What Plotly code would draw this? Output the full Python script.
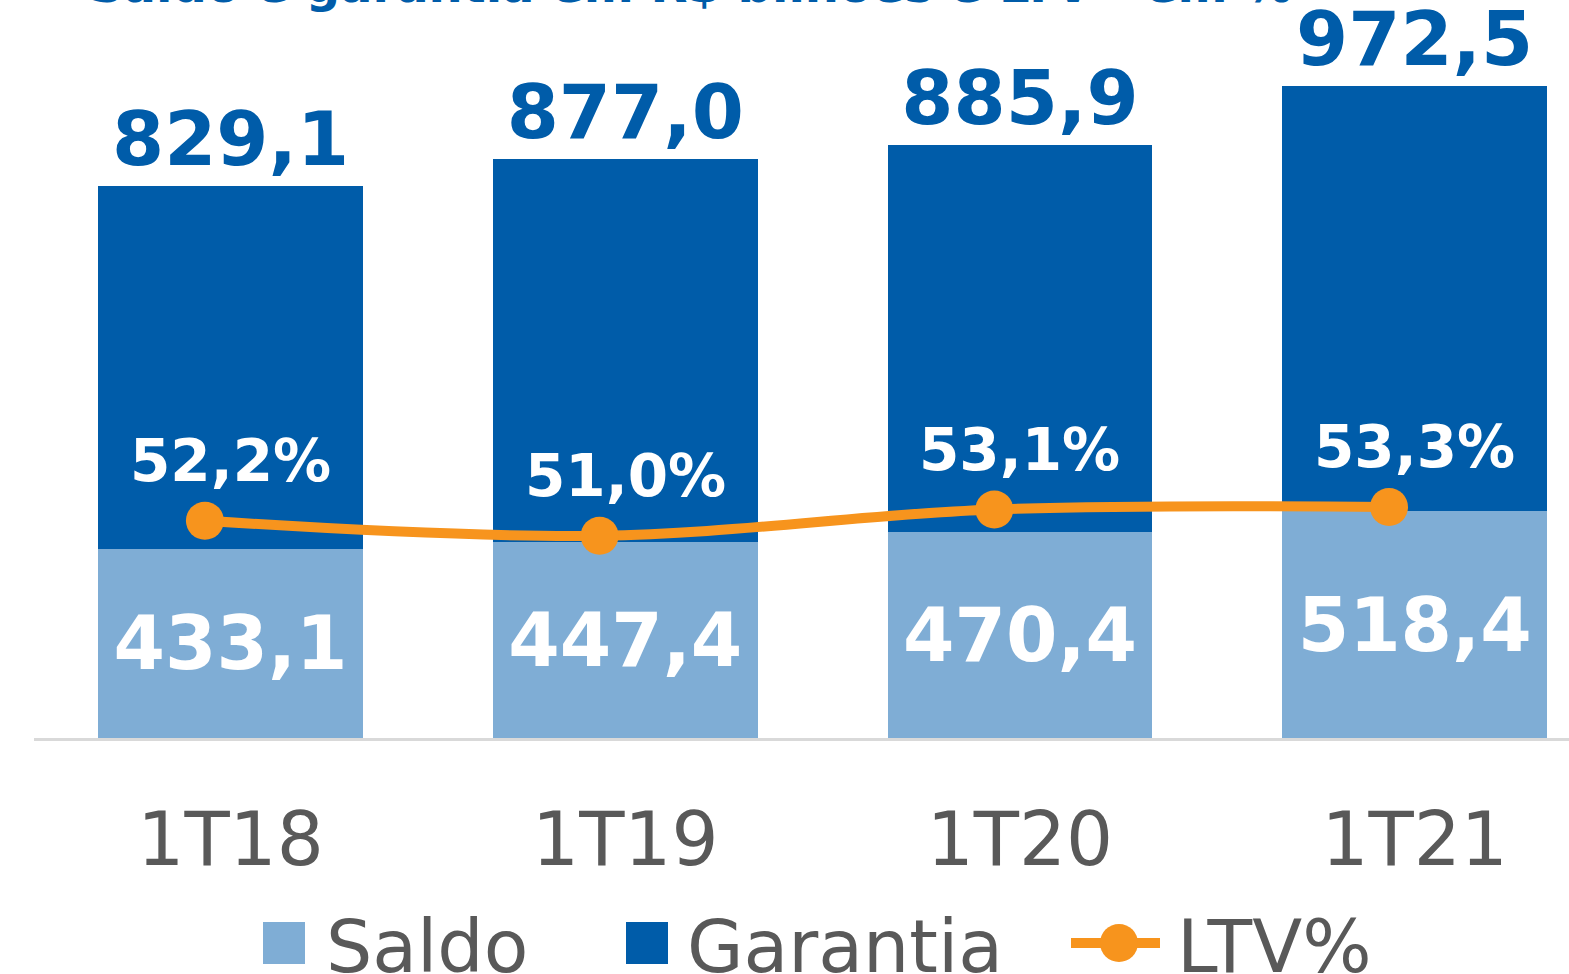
import plotly.graph_objects as go

# ---- data ----
categories = ["1T18", "1T19", "1T20", "1T21"]
saldo = [433.1, 447.4, 470.4, 518.4]
garantia = [829.1, 877.0, 885.9, 972.5]
ltv = [52.2, 51.0, 53.1, 53.3]
title_text = "Saldo e garantia em R$ bilhões e LTV - em %"
legend_labels = ["Saldo", "Garantia", "LTV%"]

# ---- geometry / style ----
W, H = 1569, 974
PL, PR, PT, PB = 34, 0, 0, 236
plot_w = W - PL - PR
plot_h = H - PT - PB

C_SALDO = "#7FADD5"
C_GAR = "#005CA9"
C_LTV = "#F7941D"
C_TXT = "#595959"
FONT = "DejaVu Sans"

PX_PER_UNIT = 0.437          # bar scale (pixels per R$ bi)
PX_PER_PCT = 12.5            # line scale (pixels per %)
LTV_AT_BOTTOM = 34.82

idx = list(range(len(categories)))
line_x = [i - 0.065 for i in idx]


def px_x(px):
    return (px - PL) / plot_w


def px_y(py):
    return (H - PB - py) / plot_h


fig = go.Figure()
fig.add_bar(
    x=idx, y=saldo, name=legend_labels[0], width=0.671,
    marker=dict(color=C_SALDO, line=dict(width=0)),
    texttemplate="%{y:.1f}", textposition="inside", insidetextanchor="middle",
    textfont=dict(family=FONT, size=74, color="white", weight="bold"),
    constraintext="none", showlegend=False, hoverinfo="skip",
)
fig.add_bar(
    x=idx, y=garantia, name=legend_labels[1], width=0.671,
    marker=dict(color=C_GAR, line=dict(width=0)),
    texttemplate="%{y:.1f}", textposition="outside",
    textfont=dict(family=FONT, size=75, color=C_GAR, weight="bold"),
    constraintext="none", cliponaxis=False, showlegend=False, hoverinfo="skip",
)
fig.add_scatter(
    x=line_x, y=ltv, yaxis="y2", name=legend_labels[2], mode="lines+markers",
    line=dict(color=C_LTV, width=10, shape="spline", smoothing=1),
    marker=dict(size=38, color=C_LTV), cliponaxis=False, showlegend=False,
    hoverinfo="skip",
)

annotations = []
for i, v in zip(idx, ltv):
    annotations.append(dict(
        x=i, y=v, xref="x", yref="y2", yshift=60, showarrow=False,
        text=f"{v:.1f}%".replace(".", ","), xanchor="center", yanchor="middle",
        font=dict(family=FONT, size=58, color="white", weight="bold"),
    ))

# title (cut at the top edge, as in the reference)
annotations.append(dict(
    x=px_x(87), y=px_y(-15), xref="paper", yref="paper", showarrow=False,
    text=title_text, xanchor="left", yanchor="middle",
    font=dict(family=FONT, size=48, color=C_GAR, weight="bold"),
))

# custom legend
shapes = []
leg_y = 943
sq = 42
for x0, col in [(263, C_SALDO), (626, C_GAR)]:
    shapes.append(dict(type="rect", xref="paper", yref="paper",
                       x0=px_x(x0), x1=px_x(x0 + sq), y0=px_y(leg_y + sq / 2), y1=px_y(leg_y - sq / 2),
                       fillcolor=col, line=dict(width=0)))
shapes.append(dict(type="line", xref="paper", yref="paper",
                   x0=px_x(1071), x1=px_x(1160), y0=px_y(leg_y), y1=px_y(leg_y),
                   line=dict(color=C_LTV, width=10)))
shapes.append(dict(type="circle", xref="paper", yref="paper",
                   x0=px_x(1119 - 19), x1=px_x(1119 + 19), y0=px_y(leg_y + 19), y1=px_y(leg_y - 19),
                   fillcolor=C_LTV, line=dict(width=0)))
for xt, lab in [(324, legend_labels[0]), (685, legend_labels[1]), (1175, legend_labels[2])]:
    annotations.append(dict(
        x=px_x(xt), y=px_y(leg_y + 3), xref="paper", yref="paper", showarrow=False,
        text=lab, xanchor="left", yanchor="middle",
        font=dict(family=FONT, size=73, color=C_TXT),
    ))

fig.update_layout(
    width=W, height=H,
    margin=dict(l=PL, r=PR, t=PT, b=PB, pad=0),
    barmode="stack",
    separators=",.",
    plot_bgcolor="white", paper_bgcolor="white",
    showlegend=False,
    xaxis=dict(range=[-0.498, 3.391], tickvals=idx, ticktext=categories,
               showline=True, linecolor="#D9D9D9", linewidth=3,
               showgrid=False, zeroline=False, ticks="", ticklabelstandoff=35,
               tickfont=dict(family=FONT, size=74, color=C_TXT)),
    yaxis=dict(range=[0, plot_h / PX_PER_UNIT], visible=False, showgrid=False),
    yaxis2=dict(range=[LTV_AT_BOTTOM, LTV_AT_BOTTOM + plot_h / PX_PER_PCT],
                overlaying="y", visible=False, showgrid=False),
    annotations=annotations,
    shapes=shapes,
)

fig.write_html(
    "out.html",
    config={"displayModeBar": False},
    post_script="document.body.style.margin='0';document.body.style.overflow='hidden';",
)
